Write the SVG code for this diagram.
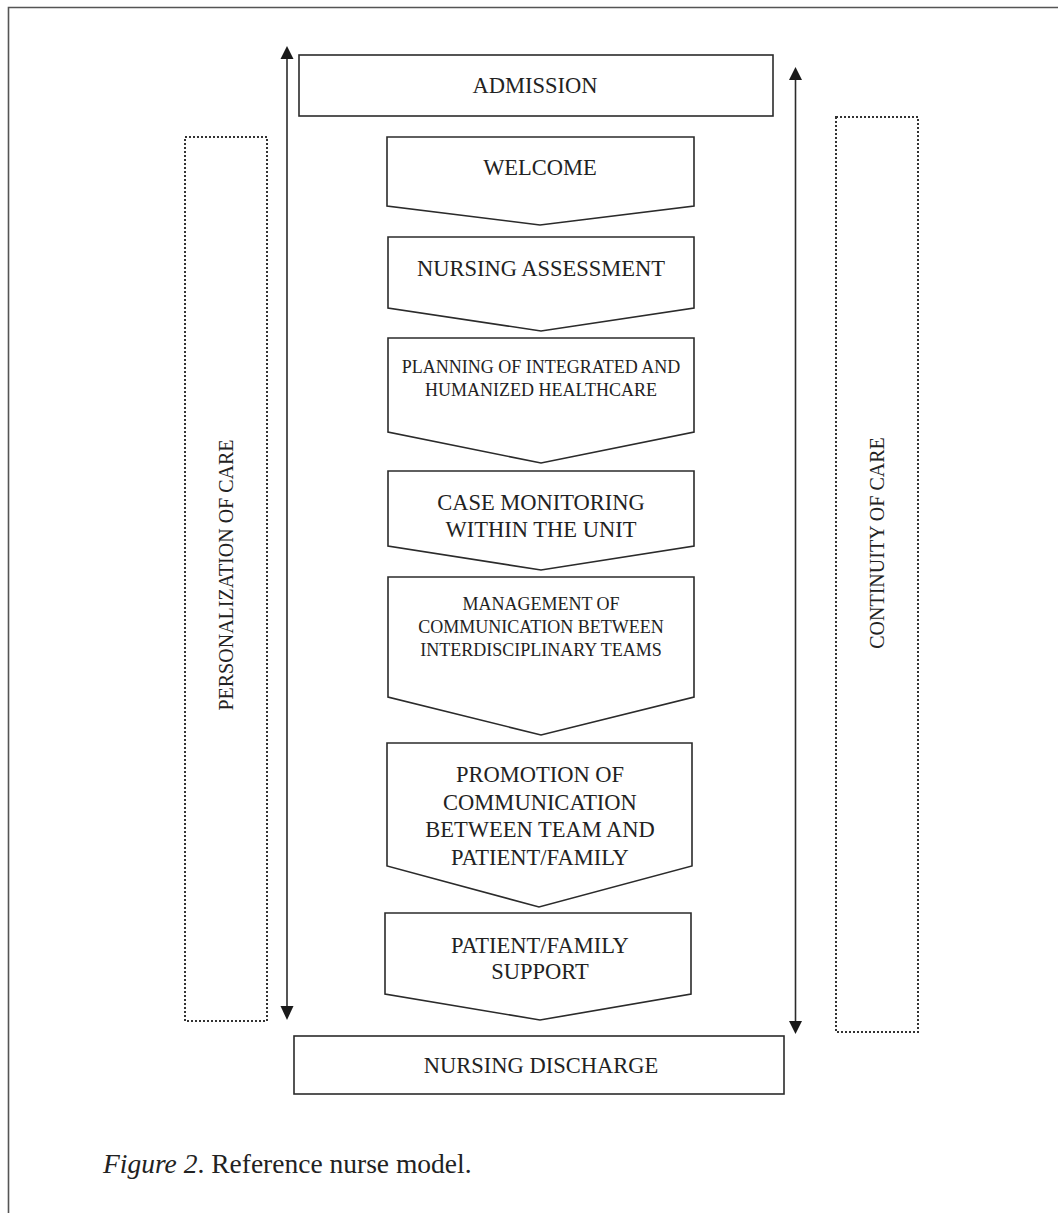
<svg xmlns="http://www.w3.org/2000/svg" width="1058" height="1213" viewBox="0 0 1058 1213">
<defs>
<style>
.box{fill:#fff;stroke:#2b2b2b;stroke-width:1.6}
.dot{fill:none;stroke:#333;stroke-width:2;stroke-dasharray:2 2}
.t{font-family:"Liberation Serif","Times New Roman",serif;fill:#222;text-anchor:middle}
.big{font-size:22.5px}
.small{font-size:18px}
.side{font-size:20px}
.ln{stroke:#2b2b2b;stroke-width:1.6;fill:none}
.head{fill:#1a1a1a}
</style>
</defs>
<rect width="1058" height="1213" fill="#fff"/>
<path d="M8.5 1213 V7.5 H1058" fill="none" stroke="#555" stroke-width="1.6"/>

<g id="personalization">
<rect class="dot" x="185" y="137" width="82" height="884"/>
<text class="t side" transform="translate(233 575) rotate(-90)">PERSONALIZATION OF CARE</text>
</g>
<g id="continuity">
<rect class="dot" x="836" y="117" width="82" height="915"/>
<text class="t side" transform="translate(884 543) rotate(-90)">CONTINUITY OF CARE</text>
</g>

<g id="connectors">
<line class="ln" x1="287" y1="56" x2="287" y2="1008"/>
<polygon class="head" points="287,46 280.5,59 293.5,59"/>
<polygon class="head" points="287,1020 280.5,1006 293.5,1006"/>
<line class="ln" x1="795.5" y1="76" x2="795.5" y2="1024"/>
<polygon class="head" points="795.5,67 789,80 802,80"/>
<polygon class="head" points="795.5,1034 789,1021 802,1021"/>
</g>

<g id="admission">
<rect class="box" x="299" y="55" width="474" height="61"/>
<text class="t big" x="535" y="93">ADMISSION</text>
</g>
<g id="welcome">
<polygon class="box" points="387,137 694,137 694,206 540,225 387,206"/>
<text class="t big" x="540" y="175">WELCOME</text>
</g>
<g id="assessment">
<polygon class="box" points="388,237 694,237 694,308 541,331 388,308"/>
<text class="t big" x="541" y="276">NURSING ASSESSMENT</text>
</g>
<g id="planning">
<polygon class="box" points="388,338 694,338 694,432 541,463 388,432"/>
<text class="t small" x="541" y="373">PLANNING OF INTEGRATED AND</text>
<text class="t small" x="541" y="396">HUMANIZED HEALTHCARE</text>
</g>
<g id="monitoring">
<polygon class="box" points="388,471 694,471 694,546 541,570 388,546"/>
<text class="t big" x="541" y="510">CASE MONITORING</text>
<text class="t big" x="541" y="537">WITHIN THE UNIT</text>
</g>
<g id="management">
<polygon class="box" points="388,577 694,577 694,697 541,735 388,697"/>
<text class="t small" x="541" y="610">MANAGEMENT OF</text>
<text class="t small" x="541" y="633">COMMUNICATION BETWEEN</text>
<text class="t small" x="541" y="656">INTERDISCIPLINARY TEAMS</text>
</g>
<g id="promotion">
<polygon class="box" points="387,743 692,743 692,866 539,907 387,866"/>
<text class="t big" x="540" y="782">PROMOTION OF</text>
<text class="t big" x="540" y="810">COMMUNICATION</text>
<text class="t big" x="540" y="837">BETWEEN TEAM AND</text>
<text class="t big" x="540" y="865">PATIENT/FAMILY</text>
</g>
<g id="support">
<polygon class="box" points="385,913 691,913 691,994 540,1020 385,994"/>
<text class="t big" x="540" y="953">PATIENT/FAMILY</text>
<text class="t big" x="540" y="979">SUPPORT</text>
</g>
<g id="discharge">
<rect class="box" x="294" y="1036" width="490" height="58"/>
<text class="t big" x="541" y="1073">NURSING DISCHARGE</text>
</g>

<text x="103" y="1173" font-family="Liberation Serif, serif" font-size="27.5" fill="#222"><tspan font-style="italic">Figure 2</tspan>. Reference nurse model.</text>
</svg>
